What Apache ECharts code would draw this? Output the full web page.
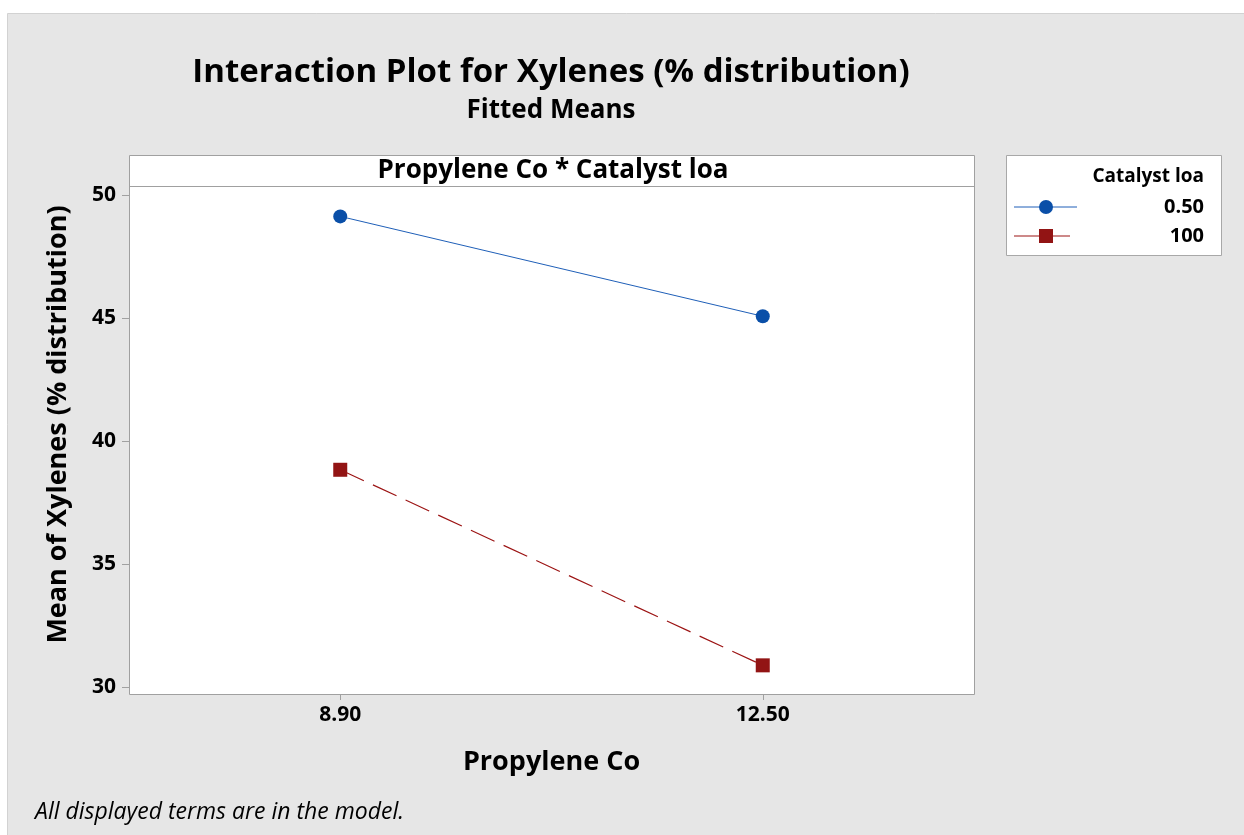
<!DOCTYPE html>
<html><head><meta charset="utf-8">
<script src="https://cdn.jsdelivr.net/npm/echarts@6/dist/echarts.min.js"></script>
<style>html,body{margin:0;padding:0;background:#fff}#c{width:1244px;height:835px}</style>
</head><body><div id="c"></div>
<script>
const categories = ['8.90', '12.50'];
const seriesNames = ['0.50', '100'];
const values050 = [49.13, 45.07];
const values100 = [38.83, 30.88];
const yTicks = [30, 35, 40, 45, 50];

const F = '"Open Sans","Noto Sans",sans-serif';
const chart = echarts.init(document.getElementById('c'));
chart.setOption({
  backgroundColor: '#ffffff',
  animation: false,
  graphic: [
    {type:'rect', z:-10, shape:{x:7.5,y:13.5,width:1240,height:830}, style:{fill:'#e6e6e6', stroke:'#d2d2d2', lineWidth:1}},
    {type:'rect', z:-5, shape:{x:129.5,y:155.5,width:845,height:539}, style:{fill:'#ffffff', stroke:'#a0a0a0', lineWidth:1}},
    {type:'line', z:10, shape:{x1:129.5,y1:186.5,x2:974.5,y2:186.5}, style:{stroke:'#a0a0a0', lineWidth:1}},
    {type:'rect', z:9, shape:{x:130,y:156,width:844,height:30}, style:{fill:'#ffffff'}},
    {type:'text', z:11, x:553, y:171, style:{text:'Propylene Co * Catalyst loa', font:'bold 26px '+F, fill:'#000', align:'center', verticalAlign:'middle'}},
    {type:'text', x:551, y:73, style:{text:'Interaction Plot for Xylenes (% distribution)', font:'bold 33px '+F, fill:'#000', align:'center', verticalAlign:'middle'}},
    {type:'text', x:551, y:111, style:{text:'Fitted Means', font:'bold 26px '+F, fill:'#000', align:'center', verticalAlign:'middle'}},
    {type:'text', x:35, y:812, style:{text:'All displayed terms are in the model.', font:'italic 23px '+F, fill:'#000', align:'left', verticalAlign:'middle'}},
    // legend
    {type:'rect', shape:{x:1006.5,y:155.5,width:215,height:100}, style:{fill:'#ffffff', stroke:'#a8a8a8', lineWidth:1}},
    {type:'text', x:1204, y:177, style:{text:'Catalyst loa', font:'bold 19px '+F, fill:'#000', align:'right', verticalAlign:'middle'}},
    {type:'line', shape:{x1:1014,y1:207,x2:1077,y2:207}, style:{stroke:'#1f5fb8', lineWidth:1}},
    {type:'circle', shape:{cx:1046,cy:207,r:7}, style:{fill:'#0a4fa8'}},
    {type:'text', x:1204, y:207, style:{text:seriesNames[0], font:'bold 20px '+F, fill:'#000', align:'right', verticalAlign:'middle'}},
    {type:'line', shape:{x1:1014,y1:236,x2:1070,y2:236}, style:{stroke:'#9c1414', lineWidth:1.2}},
    {type:'rect', shape:{x:1039,y:229,width:14,height:14}, style:{fill:'#921414'}},
    {type:'text', x:1204, y:236, style:{text:seriesNames[1], font:'bold 20px '+F, fill:'#000', align:'right', verticalAlign:'middle'}}
  ],
  grid: {left:129, top:155, width:845, height:539, containLabel:false},
  xAxis: {
    type:'category', data:categories, boundaryGap:true,
    name:'Propylene Co', nameLocation:'middle', nameGap:55,
    nameTextStyle:{fontFamily:F, fontWeight:'bold', fontSize:27, color:'#000'},
    axisLine:{show:false},
    axisTick:{show:true, alignWithLabel:true, length:6, lineStyle:{color:'#a0a0a0'}},
    axisLabel:{fontFamily:F, fontWeight:'bold', fontSize:21, color:'#000', margin:11},
    splitLine:{show:false}
  },
  yAxis: {
    type:'value', min:29.715, max:51.626,
    name:'Mean of Xylenes (% distribution)', nameLocation:'middle', nameGap:57, nameRotate:90,
    nameTextStyle:{fontFamily:F, fontWeight:'bold', fontSize:27, color:'#000'},
    axisLine:{show:false},
    axisTick:{show:true, length:7, lineStyle:{color:'#a0a0a0'}, customValues:yTicks},
    axisLabel:{fontFamily:F, fontWeight:'bold', fontSize:21, color:'#000', margin:13, customValues:yTicks},
    splitLine:{show:false}
  },
  series: [
    {name:seriesNames[0], type:'line', data:values050, symbol:'circle', symbolSize:14,
     itemStyle:{color:'#0a4fa8'}, lineStyle:{color:'#1f5fb8', width:1}, z:3},
    {name:seriesNames[1], type:'line', data:values100, symbol:'rect', symbolSize:14,
     itemStyle:{color:'#921414'}, lineStyle:{color:'#9c1414', width:1.2, type:[26,10]}, z:3}
  ]
});
</script></body></html>
